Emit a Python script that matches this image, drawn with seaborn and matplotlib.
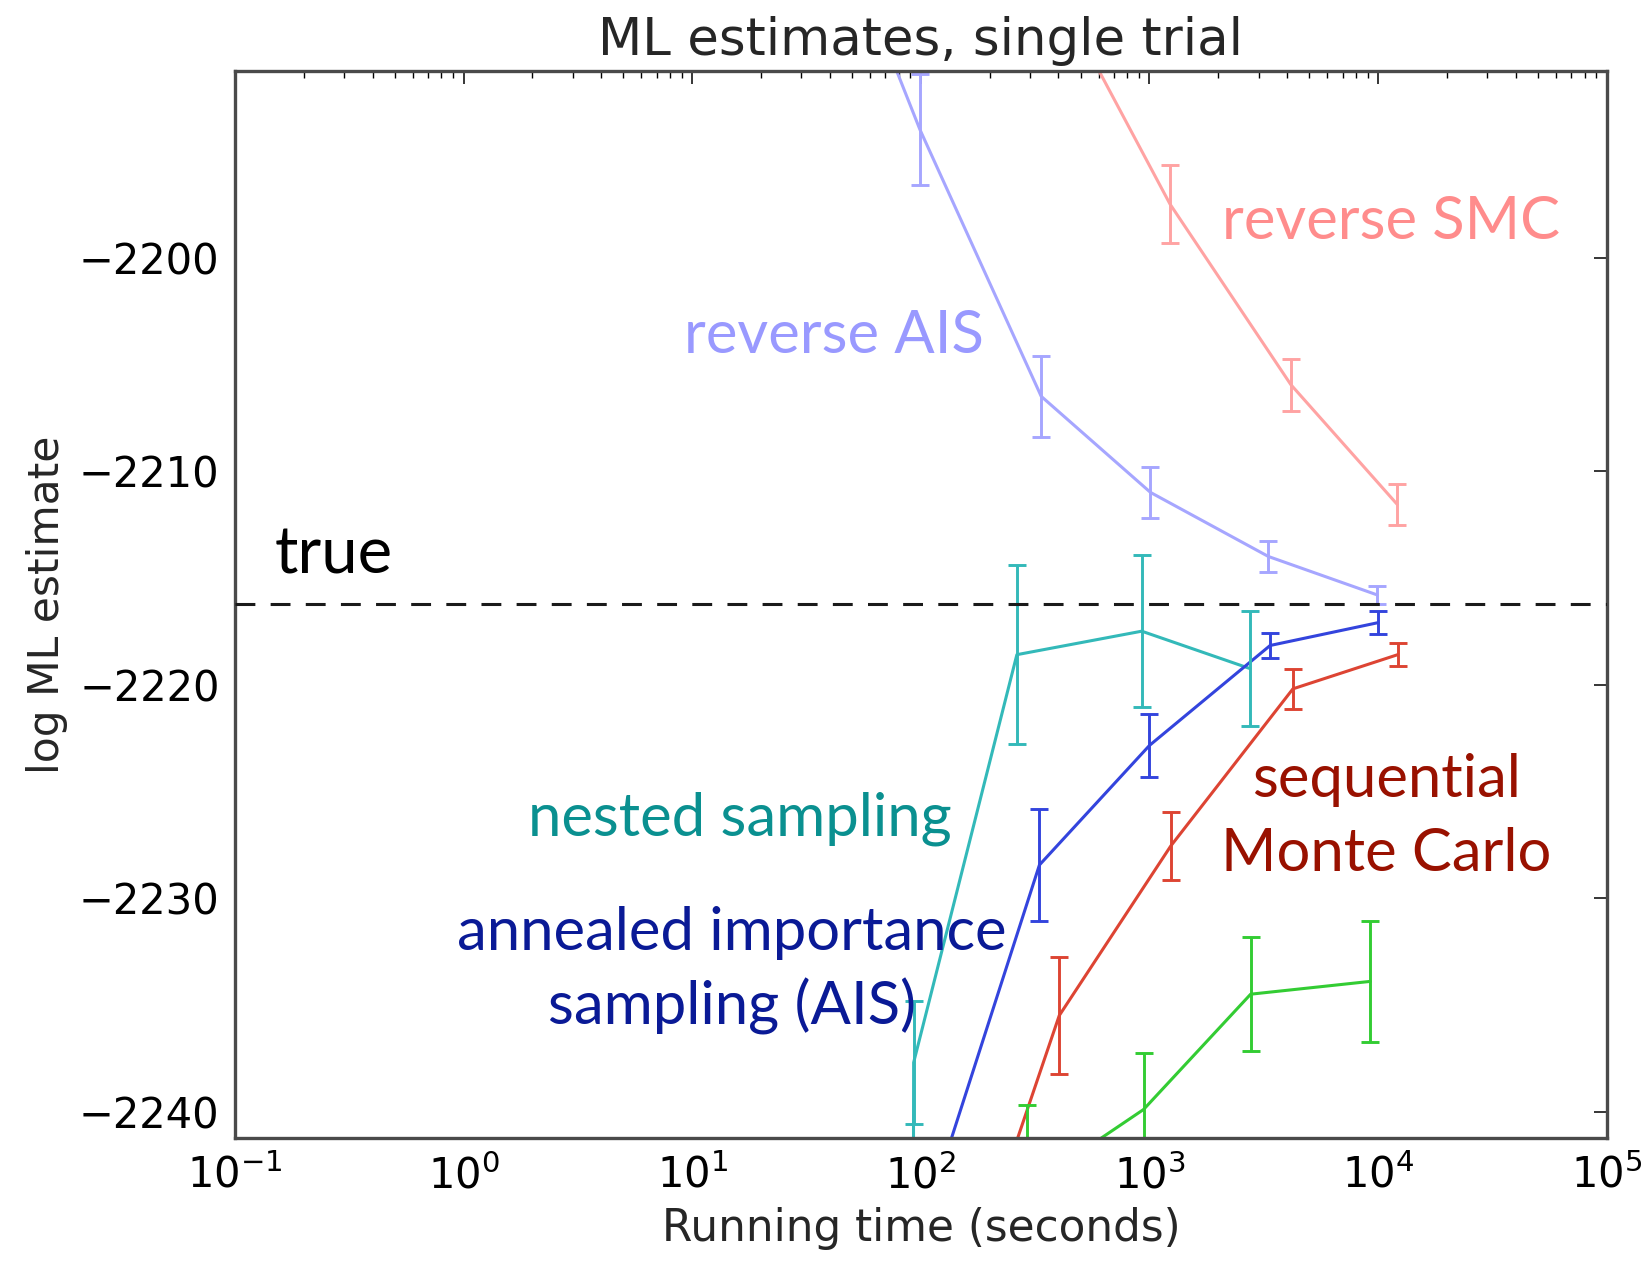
import matplotlib
matplotlib.use("Agg")
import matplotlib.pyplot as plt
import matplotlib.ticker as mticker
import pandas as pd
import seaborn as sns

# Running time (seconds), log-ML estimate and error half-width for each method
rev_ais_t = [30, 99, 336, 1010, 3310, 9900]
rev_ais_y = [-2180.0, -2194.0, -2206.5, -2211.0, -2214.0, -2215.8]
rev_ais_e = [2.5, 2.6, 1.9, 1.2, 0.74, 0.42]

rev_smc_t = [400, 1230, 4150, 12140]
rev_smc_y = [-2187.7, -2197.5, -2205.95, -2211.57]
rev_smc_e = [2.0, 1.82, 1.22, 0.97]

nested_t = [92, 93, 263, 925, 2750]
nested_y = [-2265.0, -2237.7, -2218.6, -2217.5, -2219.25]
nested_e = [3.0, 2.9, 4.2, 3.56, 2.69]

ais_t = [100, 330, 1000, 3370, 10000]
ais_y = [-2245.7, -2228.45, -2222.85, -2218.17, -2217.1]
ais_e = [3.5, 2.61, 1.48, 0.6, 0.55]

smc_t = [130, 403, 1239, 4240, 12180]
smc_y = [-2251.0, -2235.5, -2227.56, -2220.2, -2218.6]
smc_e = [3.0, 2.75, 1.6, 0.93, 0.54]

green_t = [290, 942, 2770, 9250]
green_y = [-2243.6, -2239.9, -2234.5, -2233.9]
green_e = [3.9, 2.64, 2.68, 2.84]

true_logml = -2216.25

x_ticks = [1e-1, 1e0, 1e1, 1e2, 1e3, 1e4, 1e5]
y_ticks = [-2240, -2230, -2220, -2210, -2200]

series = {
    "reverse AIS": (rev_ais_t, rev_ais_y, rev_ais_e),
    "reverse SMC": (rev_smc_t, rev_smc_y, rev_smc_e),
    "nested sampling": (nested_t, nested_y, nested_e),
    "AIS": (ais_t, ais_y, ais_e),
    "SMC": (smc_t, smc_y, smc_e),
    "other": (green_t, green_y, green_e),
}
line_colors = {
    "reverse AIS": "#a6a6ff",
    "reverse SMC": "#ffa3a3",
    "nested sampling": "#33b9b9",
    "AIS": "#3344dd",
    "SMC": "#dd4433",
    "other": "#33cc33",
}

rows = []
for name, (t, y, e) in series.items():
    for ti, yi, ei in zip(t, y, e):
        rows.append({"method": name, "time": ti, "estimate": yi, "err": ei})
df = pd.DataFrame(rows)

sns.set_style("white")
plt.rcParams.update({
    "font.family": ["DejaVu Sans"],
    "xtick.direction": "in",
    "ytick.direction": "in",
    "xtick.top": True,
    "ytick.right": True,
    "xtick.major.size": 9.5,
    "xtick.minor.size": 4.8,
    "ytick.major.size": 9.5,
    "xtick.major.width": 1.1,
    "xtick.minor.width": 1.0,
    "ytick.major.width": 1.1,
    "xtick.color": "black",
    "ytick.color": "black",
})

fig = plt.figure(figsize=(16.51, 12.62), dpi=100)
ax = fig.add_axes([0.1423, 0.098, 0.9732 - 0.1423, 0.944 - 0.098])
ax.set_xscale("log")

# reference value
ax.axhline(true_logml, color="#1a1a1a", lw=2.2, dashes=(6.5, 5.0), zorder=3)

sns.lineplot(data=df, x="time", y="estimate", hue="method", palette=line_colors,
             estimator=None, sort=False, legend=False, lw=2.2, ax=ax, zorder=2)

for name, sub in df.groupby("method", sort=False):
    ax.errorbar(sub["time"], sub["estimate"], yerr=sub["err"], fmt="none",
                ecolor=line_colors[name], elinewidth=2.1, capsize=6.5,
                capthick=2.1, zorder=2)

ax.set_xlim(0.1, 1e5)
ax.set_ylim(-2241.25, -2191.25)
ax.set_xticks(x_ticks)
ax.xaxis.set_minor_locator(mticker.LogLocator(base=10, subs=range(2, 10), numticks=20))
ax.xaxis.set_minor_formatter(mticker.NullFormatter())
ax.set_yticks(y_ticks)
ax.tick_params(axis="both", which="major", labelsize=30, pad=11)
ax.tick_params(axis="x", which="major", pad=12)

for s in ax.spines.values():
    s.set_color("#4a4a4a")
    s.set_linewidth(2.4)

ax.set_title("ML estimates, single trial", fontsize=37, pad=11)
ax.set_xlabel("Running time (seconds)", fontsize=31.5, labelpad=7)
ax.set_ylabel("log ML estimate", fontsize=30.5)
ax.yaxis.set_label_coords(-0.122, 0.5)

# method annotations
ann = dict(family=["Lato", "DejaVu Sans"], fontsize=43)
ax.text(0.1496, -2214.79, "true", color="black", ha="left", va="baseline",
        family=["Lato", "DejaVu Sans"], fontsize=47)
ax.text(9.2, -2204.49, "reverse AIS", color="#9999ff", ha="left", va="baseline", **ann)
ax.text(2070, -2199.13, "reverse SMC", color="#ff8c8c", ha="left", va="baseline", **ann)
ax.text(1.907, -2227.09, "nested sampling", color="#0a9090", ha="left", va="baseline", **ann)
ax.text(14.93, -2232.42, "annealed importance", color="#0a1a96", ha="center", va="baseline", **ann)
ax.text(14.93, -2235.93, "sampling (AIS)", color="#0a1a96", ha="center", va="baseline", **ann)
ax.text(10835, -2225.28, "sequential", color="#991100", ha="center", va="baseline", **ann)
ax.text(10835, -2228.72, "Monte Carlo", color="#991100", ha="center", va="baseline", **ann)

fig.savefig("out.png", dpi=100)
